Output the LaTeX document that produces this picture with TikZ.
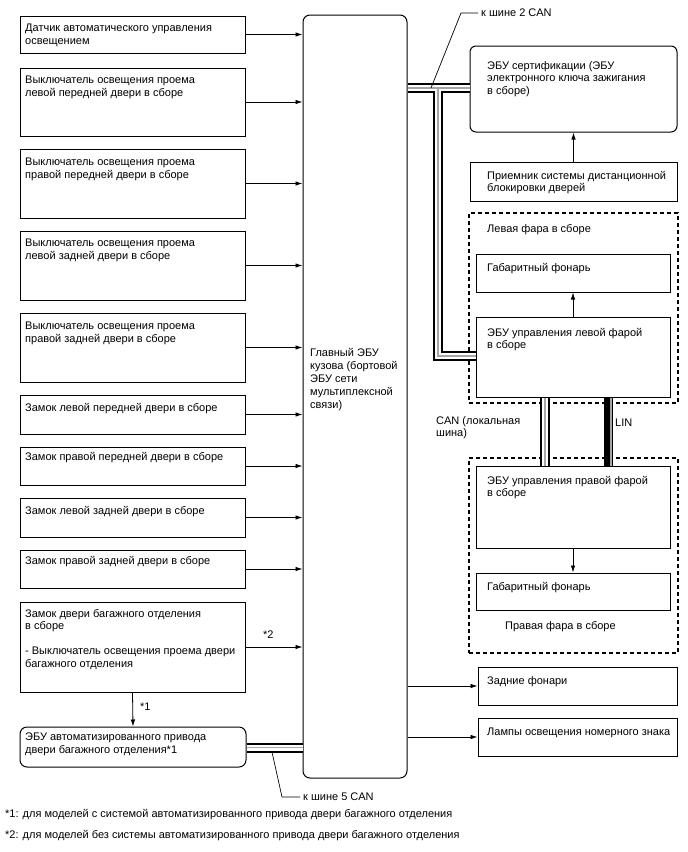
\documentclass[tikz,border=0pt]{standalone}
\usepackage{fontspec}
\setmainfont{Liberation Sans}
\usetikzlibrary{arrows.meta,fit}
\begin{document}
\begin{tikzpicture}[x=1pt,y=-1pt,
  bx/.style={draw, line width=1pt, inner sep=0pt},
  rbx/.style={bx, rounded corners=7pt},
  grp/.style={draw, line width=1.1pt, dash pattern=on 4pt off 3pt, inner sep=0pt},
  tx/.style={anchor=north west, inner sep=0pt, align=left, font=\fontsize{11}{12.5}\selectfont},
  arr/.style={line width=0.8pt, -{Latex[length=7pt,width=4.5pt]}},
  lead/.style={line width=0.7pt},
  busK/.style={line width=10pt, black},
  busW/.style={line width=6pt, white},
  busG/.style={line width=1.5pt, gray!70},
  linK/.style={line width=9pt, black},
]
\useasboundingbox (0,0) rectangle (688,852);

% left column
\node[bx, fit={(20,16)(245,53)}] (b1) {};
\node[bx, fit={(20,68)(245,136)}] (b2) {};
\node[bx, fit={(20,149)(245,218)}] (b3) {};
\node[bx, fit={(20,231)(245,300)}] (b4) {};
\node[bx, fit={(20,313)(245,382)}] (b5) {};
\node[bx, fit={(20,395)(245,434)}] (b6) {};
\node[bx, fit={(20,447)(245,485)}] (b7) {};
\node[bx, fit={(20,498)(245,537)}] (b8) {};
\node[bx, fit={(20,550)(245,588)}] (b9) {};
\node[bx, fit={(20,602)(245,692)}] (b10) {};
\node[rbx, fit={(20,727)(246,767)}] (auto) {};

\node[tx] (b1t) at (25,24) {Датчик автоматического управления\\освещением};
\node[tx] (b2t) at (25,76) {Выключатель освещения проема\\левой передней двери в сборе};
\node[tx] (b3t) at (25,158) {Выключатель освещения проема\\правой передней двери в сборе};
\node[tx] (b4t) at (25,239) {Выключатель освещения проема\\левой задней двери в сборе};
\node[tx] (b5t) at (25,322) {Выключатель освещения проема\\правой задней двери в сборе};
\node[tx] (b6t) at (25,403) {Замок левой передней двери в сборе};
\node[tx] (b7t) at (25,452) {Замок правой передней двери в сборе};
\node[tx] (b8t) at (25,506) {Замок левой задней двери в сборе};
\node[tx] (b9t) at (25,556) {Замок правой задней двери в сборе};
\node[tx] (b10t) at (25,609) {Замок двери багажного отделения\\в сборе\\[12.5pt]- Выключатель освещения проема двери\\багажного отделения};
\node[tx] (autot) at (25,733) {ЭБУ автоматизированного привода\\двери багажного отделения*1};

% main ECU
\node[rbx, fit={(303,15)(407,778)}] (main) {};
\node[tx, font=\fontsize{11}{13}\selectfont] (maint) at (310,348) {Главный ЭБУ\\кузова (бортовой\\ЭБУ сети\\мультиплексной\\связи)};

% right column
\node[rbx, rounded corners=6pt, fit={(470,46)(677,132)}] (cert) {};
\node[tx] (certt) at (487,61) {ЭБУ сертификации (ЭБУ\\электронного ключа зажигания\\в сборе)};
\node[bx, fit={(470,162)(677,201)}] (recv) {};
\node[tx] (recvt) at (487,171) {Приемник системы дистанционной\\блокировки дверей};

\node[grp, fit={(469,213)(678,403)}] (lgrp) {};
\node[tx] (lgrpt) at (487,224) {Левая фара в сборе};
\node[bx, fit={(476,254)(670,292)}] (gab1) {};
\node[tx] (gab1t) at (487,263) {Габаритный фонарь};
\node[bx, fit={(476,317)(670,397)}] (lecu) {};
\node[tx] (lecut) at (487,328) {ЭБУ управления левой фарой\\в сборе};

\node[grp, fit={(469,458)(678,653)}] (rgrp) {};
\node[bx, fit={(476,466)(670,548)}] (recu) {};
\node[tx] (recut) at (487,476) {ЭБУ управления правой фарой\\в сборе};
\node[bx, fit={(476,573)(670,610)}] (gab2) {};
\node[tx] (gab2t) at (487,582) {Габаритный фонарь};
\node[tx] (rgrpt) at (505,621) {Правая фара в сборе};

\node[bx, fit={(478,667)(677,705)}] (zad) {};
\node[tx] (zadt) at (487,676) {Задние фонари};
\node[bx, fit={(478,718)(677,756)}] (lamp) {};
\node[tx] (lampt) at (487,728) {Лампы освещения номерного знака};

% arrows into main ECU
\foreach \n in {b1,b2,b3,b4,b5,b6,b7,b8,b9,b10}{
  \draw[arr] (\n.east) -- (\n -| main.west);
}
\draw[arr] (b10.south) -- (auto.north);
\node[tx] (s1) at (140,703) {*1};
\node[tx] (s2) at (263,631) {*2};
\draw[arr] (zad -| main.east) -- (zad.west);
\draw[arr] (lamp -| main.east) -- (lamp.west);
\draw[arr] (recv.north) -- (cert.south);
\draw[arr] (lecu.north) -- (gab1.south);
\draw[arr] (recu.south) -- (gab2.north);

% buses
\coordinate (j1) at (438,88);
\coordinate (j2) at (438,356);
\coordinate (j3) at (0,747.5);
\coordinate (canx) at (545,0);
\coordinate (linx) at (608,0);
\coordinate (linx2) at (610.5,0);
\foreach \s in {busK,busW,busG}{
  \draw[\s] (main.east |- j1) -- (cert.west |- j1);
  \draw[\s] (j1) -- (j2) -- (j2 -| lecu.west);
  \draw[\s] (auto.east |- j3) -- (main.west |- j3);
  \draw[\s] (lecu.south -| canx) -- (recu.north -| canx);
}
\draw[linK] (lecu.south -| linx) -- (recu.north -| linx);
\draw[line width=2pt, gray!70] (lecu.south -| linx2) -- (recu.north -| linx2);

\node[tx] (cant) at (436,416) {CAN (локальная\\шина)};
\node[tx] (lint) at (615,419) {LIN};

% leaders
\coordinate (l2a) at (431,88);
\coordinate (l2b) at (461,13);
\coordinate (l2c) at (478,13);
\draw[lead] (l2a) -- (l2b) -- (l2c);
\node[tx, anchor=west] (l2t) at (481,13) {к шине 2 CAN};
\coordinate (l5a) at (272,752);
\coordinate (l5b) at (282,797);
\coordinate (l5c) at (300,797);
\draw[lead] (l5a) -- (l5b) -- (l5c);
\node[tx, anchor=west] (l5t) at (303,797) {к шине 5 CAN};

% footnotes
\node[tx, anchor=west] (f1) at (5,815) {*1: для моделей с системой автоматизированного привода двери багажного отделения};
\node[tx, anchor=west] (f2) at (5,836) {*2: для моделей без системы автоматизированного привода двери багажного отделения};
\end{tikzpicture}
\end{document}
